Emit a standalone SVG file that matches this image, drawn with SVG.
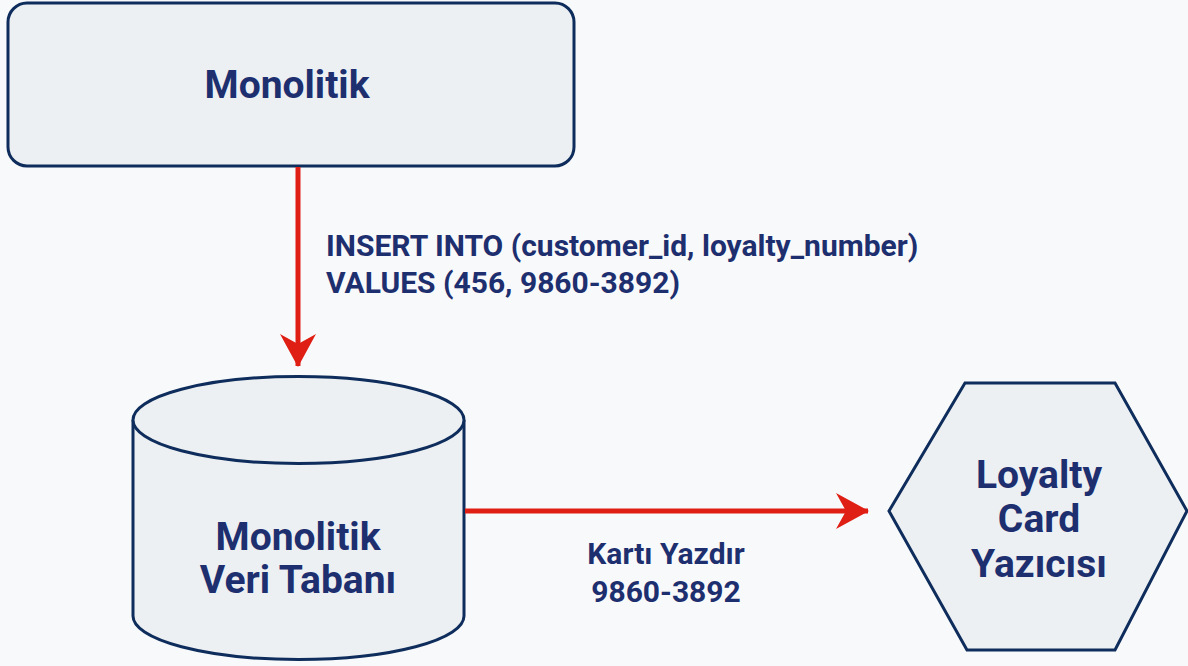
<svg xmlns="http://www.w3.org/2000/svg" width="1188" height="666" viewBox="0 0 1188 666">
  <style>
    .shape { fill: #edf0f2; stroke: #0e2d5c; stroke-width: 3; }
    .title { font-family: Roboto, "Liberation Sans", sans-serif; font-weight: 700; font-size: 39px; fill: #1e2f6f; text-anchor: middle; }
    .label { font-family: Roboto, "Liberation Sans", sans-serif; font-weight: 700; font-size: 30px; fill: #1e2f6f; }
    .flow { fill: none; stroke: #e01f14; stroke-width: 5; }
  </style>
  <defs>
    <marker id="arrow" viewBox="0 0 34 36" refX="32" refY="18" markerWidth="34" markerHeight="36" markerUnits="userSpaceOnUse" orient="auto">
      <path d="M0,0 L33,18 L0,36 L10,18 Z" fill="#e01f14"/>
    </marker>
  </defs>
  <rect width="1188" height="666" fill="#f8f9fa"/>

  <g id="monolith">
    <rect class="shape" x="8" y="3" width="566" height="163" rx="19"/>
    <text class="title" x="287" y="98">Monolitik</text>
  </g>

  <g id="database">
    <path class="shape" d="M133,420 A165.5,43.5 0 0 1 464,420 L464,616 A165.5,43.5 0 0 1 133,616 Z"/>
    <path class="shape" fill="none" d="M133,420 A165.5,43.5 0 0 0 464,420"/>
    <text class="title" x="298" y="550">Monolitik</text>
    <text class="title" x="298" y="593">Veri Tabanı</text>
  </g>

  <g id="printer">
    <polygon class="shape" points="889,511 965,383 1115,383 1187,511 1115,650 967,650"/>
    <text class="title" x="1039" y="488">Loyalty</text>
    <text class="title" x="1039" y="532">Card</text>
    <text class="title" x="1039" y="577">Yazıcısı</text>
  </g>

  <g id="connectors">
    <line class="flow" x1="298" y1="167" x2="298" y2="366" marker-end="url(#arrow)"/>
    <line class="flow" x1="465" y1="511" x2="868" y2="511" marker-end="url(#arrow)"/>
    <text class="label" x="326" y="256">INSERT INTO (customer_id, loyalty_number)</text>
    <text class="label" x="326" y="293">VALUES (456, 9860-3892)</text>
    <text class="label" x="666" y="564" text-anchor="middle">Kartı Yazdır</text>
    <text class="label" x="666" y="602" text-anchor="middle">9860-3892</text>
  </g>
</svg>
